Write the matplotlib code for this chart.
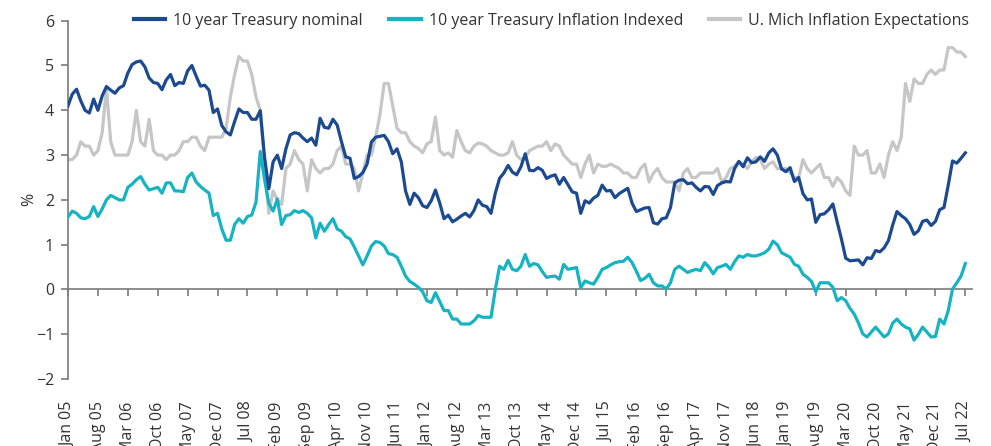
import numpy as np
import pandas as pd
import matplotlib
matplotlib.use("Agg")
import matplotlib.pyplot as plt

plt.rcParams['font.family'] = ['Open Sans', 'DejaVu Sans']

# Month-end values, Jan 2005 to Jul 2022
start = "2005-01"

nominal = [
	4.10, 4.36, 4.47, 4.21, 4.00, 3.94, 4.25, 4.00, 4.32, 4.53, 4.45, 4.38,
	4.50, 4.55, 4.83, 5.02, 5.08, 5.10, 4.97, 4.72, 4.62, 4.60, 4.46, 4.68,
	4.80, 4.55, 4.62, 4.60, 4.88, 5.00, 4.76, 4.54, 4.56, 4.45, 3.95, 4.03,
	3.66, 3.52, 3.45, 3.75, 4.03, 3.95, 3.95, 3.80, 3.80, 3.99, 2.95, 2.25,
	2.85, 3.00, 2.70, 3.14, 3.45, 3.50, 3.48, 3.38, 3.30, 3.38, 3.22, 3.82,
	3.62, 3.60, 3.80, 3.67, 3.30, 2.96, 2.93, 2.48, 2.52, 2.61, 2.80, 3.29,
	3.40, 3.42, 3.44, 3.30, 3.03, 3.14, 2.85, 2.20, 1.90, 2.15, 2.05, 1.87,
	1.83, 1.98, 2.22, 1.93, 1.58, 1.66, 1.51, 1.57, 1.64, 1.70, 1.62, 1.76,
	2.00, 1.88, 1.85, 1.70, 2.15, 2.48, 2.60, 2.77, 2.62, 2.56, 2.74, 3.03,
	2.66, 2.65, 2.72, 2.66, 2.48, 2.53, 2.56, 2.35, 2.50, 2.34, 2.18, 2.15,
	1.70, 1.98, 1.93, 2.04, 2.10, 2.33, 2.20, 2.21, 2.05, 2.14, 2.20, 2.26,
	1.93, 1.74, 1.78, 1.82, 1.83, 1.49, 1.46, 1.58, 1.60, 1.83, 2.38, 2.44,
	2.45, 2.36, 2.38, 2.28, 2.20, 2.30, 2.29, 2.12, 2.32, 2.38, 2.41, 2.40,
	2.70, 2.86, 2.74, 2.94, 2.83, 2.85, 2.96, 2.86, 3.05, 3.14, 3.00, 2.69,
	2.63, 2.72, 2.41, 2.50, 2.14, 2.00, 2.02, 1.50, 1.67, 1.69, 1.78, 1.91,
	1.51, 1.13, 0.70, 0.64, 0.65, 0.66, 0.55, 0.71, 0.69, 0.87, 0.84, 0.93,
	1.09, 1.44, 1.74, 1.65, 1.58, 1.45, 1.23, 1.31, 1.52, 1.55, 1.43, 1.52,
	1.78, 1.83, 2.33, 2.87, 2.82, 2.93, 3.05,
]

tips = [
	1.62, 1.75, 1.70, 1.60, 1.58, 1.63, 1.85, 1.63, 1.80, 2.00, 2.10, 2.05,
	2.00, 2.00, 2.28, 2.35, 2.45, 2.52, 2.35, 2.22, 2.25, 2.28, 2.15, 2.38,
	2.38, 2.20, 2.20, 2.18, 2.50, 2.60, 2.40, 2.30, 2.22, 2.15, 1.65, 1.70,
	1.35, 1.10, 1.10, 1.45, 1.58, 1.48, 1.63, 1.66, 1.95, 3.08, 2.45, 1.92,
	1.75, 2.02, 1.45, 1.65, 1.67, 1.76, 1.72, 1.76, 1.70, 1.60, 1.15, 1.48,
	1.30, 1.45, 1.58, 1.35, 1.30, 1.18, 1.13, 0.95, 0.75, 0.55, 0.75, 0.97,
	1.07, 1.05, 0.97, 0.80, 0.78, 0.72, 0.52, 0.30, 0.18, 0.12, 0.05, -0.05,
	-0.25, -0.29, -0.07, -0.27, -0.47, -0.47, -0.66, -0.66, -0.77, -0.77, -0.77, -0.70,
	-0.58, -0.62, -0.62, -0.62, 0.00, 0.52, 0.45, 0.65, 0.45, 0.42, 0.52, 0.78,
	0.52, 0.58, 0.55, 0.40, 0.27, 0.29, 0.30, 0.23, 0.56, 0.45, 0.47, 0.49,
	0.04, 0.19, 0.15, 0.12, 0.27, 0.45, 0.49, 0.55, 0.60, 0.62, 0.63, 0.72,
	0.60, 0.41, 0.20, 0.25, 0.34, 0.15, 0.08, 0.08, 0.01, 0.15, 0.45, 0.52,
	0.45, 0.38, 0.42, 0.45, 0.42, 0.60, 0.50, 0.35, 0.49, 0.52, 0.56, 0.45,
	0.62, 0.75, 0.72, 0.78, 0.75, 0.75, 0.78, 0.82, 0.90, 1.08, 1.00, 0.82,
	0.77, 0.72, 0.56, 0.52, 0.34, 0.27, 0.18, -0.05, 0.15, 0.15, 0.15, 0.05,
	-0.25, -0.18, -0.25, -0.42, -0.55, -0.75, -0.99, -1.06, -0.95, -0.84, -0.95, -1.06,
	-0.99, -0.75, -0.66, -0.77, -0.84, -0.88, -1.13, -1.00, -0.84, -0.95, -1.06, -1.05,
	-0.66, -0.77, -0.47, 0.01, 0.15, 0.30, 0.58,
]

mich = [
	2.9, 2.9, 3.0, 3.3, 3.2, 3.2, 3.0, 3.1, 3.5, 4.5, 3.3, 3.0,
	3.0, 3.0, 3.0, 3.3, 4.0, 3.3, 3.2, 3.8, 3.1, 3.0, 3.0, 2.9,
	3.0, 3.0, 3.1, 3.3, 3.3, 3.4, 3.4, 3.2, 3.1, 3.4, 3.4, 3.4,
	3.4, 3.6, 4.3, 4.8, 5.2, 5.1, 5.1, 4.8, 4.3, 4.0, 2.8, 1.7,
	2.2, 2.0, 1.9, 2.7, 2.8, 3.1, 2.9, 2.8, 2.2, 2.9, 2.7, 2.6,
	2.7, 2.7, 2.8, 3.1, 3.2, 2.8, 2.8, 2.7, 2.2, 2.6, 3.0, 3.0,
	3.4, 3.9, 4.6, 4.6, 4.1, 3.6, 3.5, 3.5, 3.3, 3.2, 3.15, 3.05,
	3.25, 3.3, 3.85, 3.1, 3.0, 3.05, 2.95, 3.55, 3.3, 3.1, 3.05, 3.2,
	3.27, 3.25, 3.2, 3.1, 3.05, 3.0, 3.0, 3.05, 3.3, 3.0, 2.9, 2.95,
	3.1, 3.15, 3.2, 3.2, 3.3, 3.1, 3.25, 3.2, 3.0, 2.9, 2.8, 2.8,
	2.5, 2.8, 3.0, 2.6, 2.8, 2.75, 2.75, 2.8, 2.75, 2.7, 2.6, 2.6,
	2.5, 2.5, 2.7, 2.8, 2.4, 2.6, 2.7, 2.5, 2.4, 2.4, 2.4, 2.2,
	2.6, 2.7, 2.5, 2.5, 2.6, 2.6, 2.6, 2.6, 2.7, 2.4, 2.5, 2.7,
	2.75, 2.85, 2.8, 2.7, 2.85, 2.95, 2.9, 2.7, 2.8, 2.85, 2.7, 2.7,
	2.7, 2.6, 2.5, 2.5, 2.9, 2.7, 2.6, 2.7, 2.8, 2.5, 2.5, 2.3,
	2.5, 2.4, 2.2, 2.1, 3.2, 3.0, 3.0, 3.1, 2.6, 2.6, 2.8, 2.5,
	3.0, 3.3, 3.1, 3.4, 4.6, 4.2, 4.7, 4.6, 4.6, 4.8, 4.9, 4.8,
	4.9, 4.9, 5.4, 5.4, 5.3, 5.3, 5.2,
]

series_names = ["10 year Treasury nominal", "10 year Treasury Inflation Indexed",
	"U. Mich Inflation Expectations"]
colors = ["#1c4a91", "#16b3c2", "#c6c6c6"]

dates = pd.date_range(start, periods=len(nominal), freq="MS")
x = np.arange(len(dates))
tick_pos = x[::7]
tick_labels = dates[::7].strftime("%b %y")

fig = plt.figure(figsize=(9.91, 4.46), dpi=100)
ax = fig.add_axes([0.0686, 0.150, 0.9124, 0.8036])

axis_col = "#7a7a7a"
text_col = "#333333"

ax.plot(x, mich, color=colors[2], lw=2.3, zorder=2, label=series_names[2])
ax.plot(x, tips, color=colors[1], lw=2.3, zorder=3, label=series_names[1])
ax.plot(x, nominal, color=colors[0], lw=2.3, zorder=4, label=series_names[0])

ax.set_xlim(0, 211.6)
ax.set_ylim(-2, 6)

# y axis
ax.spines['top'].set_visible(False)
ax.spines['right'].set_visible(False)
ax.spines['left'].set_color(axis_col)
ax.spines['left'].set_linewidth(1.2)
ax.set_yticks(range(-2, 7))
ax.tick_params(axis='y', direction='out', length=5, width=1.2, color=axis_col,
	labelsize=11.5, labelcolor=text_col, pad=5)
ax.set_ylabel("%", fontsize=11.5, color=text_col, labelpad=-1)

# x axis line at zero with ticks, labels at the bottom
ax.spines['bottom'].set_position(('data', 0))
ax.spines['bottom'].set_color(axis_col)
ax.spines['bottom'].set_linewidth(1.2)
ax.set_xticks(tick_pos)
ax.tick_params(axis='x', direction='out', length=5, width=1.2, color=axis_col,
	labelbottom=False)

sec = ax.secondary_xaxis(0)
sec.set_xticks(tick_pos, labels=tick_labels, rotation=90)
sec.tick_params(length=0, labelsize=11.5, labelcolor=text_col, pad=16)
sec.spines['bottom'].set_visible(False)

handles, labels = ax.get_legend_handles_labels()
order = [2, 1, 0]
leg = fig.legend([handles[i] for i in order], [labels[i] for i in order],
	loc='center', bbox_to_anchor=(0.5565, 0.953), ncol=3, frameon=False,
	fontsize=11.5, handlelength=2.0, handletextpad=0.5, columnspacing=1.6)
for t in leg.get_texts():
	t.set_color(text_col)
for h in leg.get_lines():
	h.set_linewidth(3)

fig.savefig("out.png", dpi=100)
